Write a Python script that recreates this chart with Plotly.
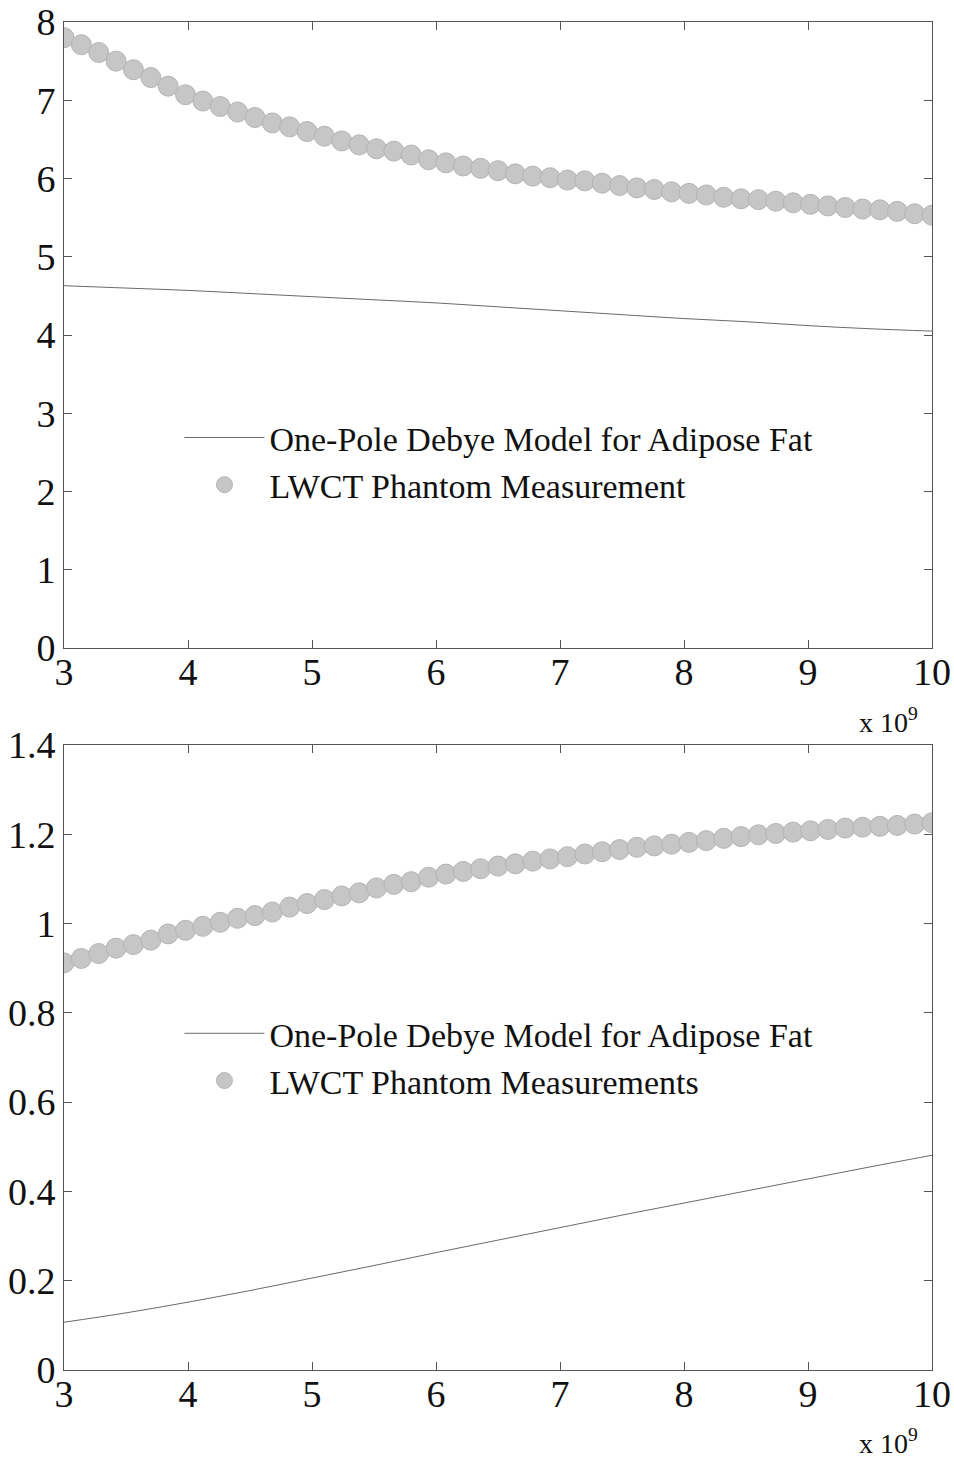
import plotly.graph_objects as go
from plotly.subplots import make_subplots

# Frequency sweep of the phantom measurement (GHz; axis shown as x 10^9 Hz)
freq_meas = [3.00, 3.14, 3.28, 3.42, 3.56, 3.70, 3.84, 3.98, 4.12, 4.26,
             4.40, 4.54, 4.68, 4.82, 4.96, 5.10, 5.24, 5.38, 5.52, 5.66,
             5.80, 5.94, 6.08, 6.22, 6.36, 6.50, 6.64, 6.78, 6.92, 7.06,
             7.20, 7.34, 7.48, 7.62, 7.76, 7.90, 8.04, 8.18, 8.32, 8.46,
             8.60, 8.74, 8.88, 9.02, 9.16, 9.30, 9.44, 9.58, 9.72, 9.86,
             10.00]

# Real part of permittivity, LWCT phantom
eps_real_meas = [7.80, 7.71, 7.61, 7.50, 7.39, 7.29, 7.18, 7.07, 6.99, 6.92,
                 6.85, 6.78, 6.71, 6.66, 6.60, 6.54, 6.48, 6.43, 6.38, 6.35,
                 6.30, 6.24, 6.20, 6.16, 6.13, 6.10, 6.06, 6.03, 6.01, 5.98,
                 5.97, 5.94, 5.91, 5.88, 5.86, 5.83, 5.81, 5.79, 5.76, 5.74,
                 5.73, 5.71, 5.69, 5.67, 5.65, 5.63, 5.61, 5.60, 5.58, 5.55,
                 5.53]

# Imaginary part of permittivity, LWCT phantom
eps_imag_meas = [0.912, 0.922, 0.933, 0.945, 0.953, 0.963, 0.977, 0.985, 0.994, 1.003,
                 1.012, 1.018, 1.026, 1.037, 1.045, 1.054, 1.062, 1.069, 1.080, 1.088,
                 1.094, 1.104, 1.111, 1.117, 1.123, 1.129, 1.134, 1.140, 1.145, 1.150,
                 1.156, 1.161, 1.166, 1.171, 1.174, 1.178, 1.182, 1.186, 1.191, 1.195,
                 1.199, 1.202, 1.205, 1.208, 1.211, 1.214, 1.216, 1.218, 1.220, 1.223,
                 1.226]

# One-pole Debye model for adipose fat
freq_model = [3.0, 3.5, 4.0, 4.5, 5.0, 5.5, 6.0, 6.5, 7.0, 7.5, 8.0, 8.5, 9.0, 9.5, 10.0]
eps_real_model = [4.63, 4.60, 4.57, 4.53, 4.49, 4.45, 4.41, 4.36, 4.31, 4.26,
                  4.21, 4.17, 4.12, 4.08, 4.05]
eps_imag_model = [0.107, 0.128, 0.152, 0.178, 0.206, 0.234, 0.263, 0.291, 0.319, 0.347,
                  0.374, 0.401, 0.428, 0.455, 0.481]

x_ticks = [3, 4, 5, 6, 7, 8, 9, 10]
x_ticktext = ["3", "4", "5", "6", "7", "8", "9", "10"]
y_ticks_top = [0, 1, 2, 3, 4, 5, 6, 7, 8]
y_ticks_bottom = [0, 0.2, 0.4, 0.6, 0.8, 1.0, 1.2, 1.4]
y_ticktext_bottom = ["0", "0.2", "0.4", "0.6", "0.8", "1", "1.2", "1.4"]

FONT = "Liberation Serif"
MARKER_FILL = "#c6c6c6"
MARKER_EDGE = "#b4b4b4"
LINE_COLOR = "#6a6a6a"
AXIS_COLOR = "#555555"

fig = make_subplots(rows=2, cols=1, vertical_spacing=0.07)

fig.add_trace(go.Scatter(
    x=freq_model, y=eps_real_model, mode="lines",
    line=dict(color=LINE_COLOR, width=1, shape="spline"),
    name="One-Pole Debye Model for Adipose Fat", legend="legend"), row=1, col=1)
fig.add_trace(go.Scatter(
    x=freq_meas, y=eps_real_meas, mode="markers",
    marker=dict(size=20, color=MARKER_FILL, line=dict(color=MARKER_EDGE, width=1)),
    name="LWCT Phantom Measurement", legend="legend"), row=1, col=1)

fig.add_trace(go.Scatter(
    x=freq_model, y=eps_imag_model, mode="lines",
    line=dict(color=LINE_COLOR, width=1, shape="spline"),
    name="One-Pole Debye Model for Adipose Fat", legend="legend2"), row=2, col=1)
fig.add_trace(go.Scatter(
    x=freq_meas, y=eps_imag_meas, mode="markers",
    marker=dict(size=20, color=MARKER_FILL, line=dict(color=MARKER_EDGE, width=1)),
    name="LWCT Phantom Measurements", legend="legend2"), row=2, col=1)

axis_common = dict(
    showline=True, linecolor=AXIS_COLOR, linewidth=1, mirror="ticks",
    ticks="inside", ticklen=8, tickcolor=AXIS_COLOR, tickwidth=1,
    showgrid=False, zeroline=False, automargin=False,
    tickfont=dict(family=FONT, size=38, color="#111111"),
)

fig.update_xaxes(range=[3, 10], tickvals=x_ticks, ticktext=x_ticktext,
                 ticklabelstandoff=-10, **axis_common)
fig.update_yaxes(**axis_common)
fig.update_yaxes(range=[0, 8], tickvals=y_ticks_top, row=1, col=1)
fig.update_yaxes(range=[0, 1.4], tickvals=y_ticks_bottom, ticktext=y_ticktext_bottom, row=2, col=1)

# Panel positions
fig.update_layout(
    yaxis=dict(domain=[0.5356, 1.0]),
    yaxis2=dict(domain=[0.0, 0.4636]),
)

legend_common = dict(
    bgcolor="rgba(0,0,0,0)", borderwidth=0,
    font=dict(family=FONT, size=34, color="#111111"),
    itemwidth=80, tracegroupgap=0,
    xanchor="left", yanchor="top",
)

fig.update_layout(
    width=954, height=1458,
    margin=dict(l=64, r=22, t=22, b=88, autoexpand=False),
    paper_bgcolor="white", plot_bgcolor="white",
    showlegend=True,
    legend=dict(x=0.133, y=0.713, **legend_common),
    legend2=dict(x=0.133, y=0.271, **legend_common),
    font=dict(family=FONT, color="#111111"),
)

# Axis multiplier labels
for y_pos in (0.482, -0.0534):
    fig.add_annotation(
        xref="paper", yref="paper", x=0.986, y=y_pos,
        xanchor="right", yanchor="middle", showarrow=False,
        text="x 10<sup>9</sup>",
        font=dict(family=FONT, size=28, color="#111111"),
    )

fig.write_html("out.html")
